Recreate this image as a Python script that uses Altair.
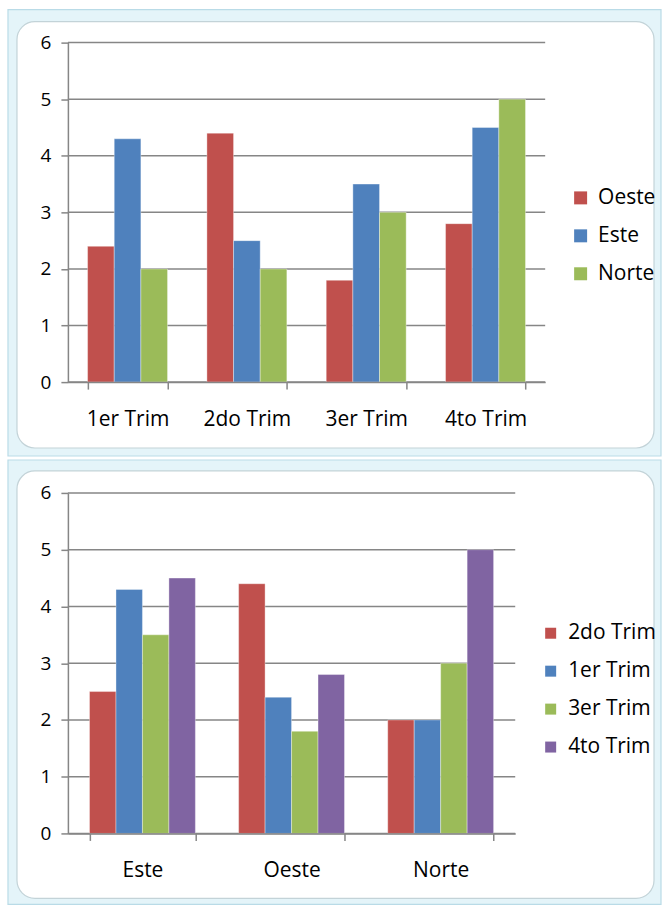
import altair as alt
import pandas as pd

# Ventas por trimestre y zona
trims = ["1er Trim", "2do Trim", "3er Trim", "4to Trim"]
zonas_top = ["Oeste", "Este", "Norte"]
oeste = [2.4, 4.4, 1.8, 2.8]
este = [4.3, 2.5, 3.5, 4.5]
norte = [2, 2, 3, 5]

# Mismos datos, agrupados por zona
zonas = ["Este", "Oeste", "Norte"]
trims_bottom = ["2do Trim", "1er Trim", "3er Trim", "4to Trim"]
t2 = [2.5, 4.4, 2]
t1 = [4.3, 2.4, 2]
t3 = [3.5, 1.8, 3]
t4 = [4.5, 2.8, 5]

y_ticks = [0, 1, 2, 3, 4, 5, 6]

RED, BLUE, GREEN, PURPLE = "#C0504D", "#4F81BD", "#9BBB59", "#8064A2"
GRID = "#868686"
FONT = "Open Sans"

top_df = pd.DataFrame(
    [{"cat": t, "serie": s, "valor": v}
     for s, vals in zip(zonas_top, [oeste, este, norte])
     for t, v in zip(trims, vals)]
)
bottom_df = pd.DataFrame(
    [{"cat": z, "serie": s, "valor": v}
     for s, vals in zip(trims_bottom, [t2, t1, t3, t4])
     for z, v in zip(zonas, vals)]
)
grid_df = pd.DataFrame({"valor": y_ticks})
one = pd.DataFrame({"k": [0]})


def box(x, x2, y, y2, fill, stroke, radius):
    return alt.Chart(one).mark_rect(
        fill=fill, stroke=stroke, strokeWidth=1.2, cornerRadius=radius
    ).encode(x=alt.value(x), x2=alt.value(x2), y=alt.value(y), y2=alt.value(y2))


def panel(df, cats, series, colors, width, height, pad_inner,
          frame_y, legend_x, legend_y, symbol):
    y_enc = alt.Y(
        "valor:Q",
        scale=alt.Scale(domain=[0, 6], nice=False),
        axis=alt.Axis(
            title=None, values=y_ticks, format="d", grid=False,
            tickSize=7, tickColor=GRID, tickWidth=1.5,
            domainColor=GRID, domainWidth=1.5,
            labelFontSize=19, labelFont=FONT, labelColor="#000000",
            labelPadding=10, zindex=1,
        ),
    )
    outer = box(-60, 594, frame_y[0], frame_y[1], "#e4f4f9", "#b9dbe7", 0)
    inner = box(-51, 587, frame_y[2], frame_y[3], "#ffffff", "#c3d3d8", 18)
    grid = alt.Chart(grid_df).mark_rule(color=GRID, strokeWidth=1.5).encode(
        y=y_enc, x=alt.value(0), x2=alt.value(width)
    )
    bars = alt.Chart(df).mark_bar(stroke="#ffffff", strokeWidth=0.6, strokeOpacity=0.6).encode(
        x=alt.X(
            "cat:N", sort=cats,
            scale=alt.Scale(paddingInner=pad_inner, paddingOuter=pad_inner / 2),
            axis=alt.Axis(
                title=None, labelAngle=0, tickBand="extent",
                tickSize=7, tickColor=GRID, tickWidth=1.5,
                domainColor=GRID, domainWidth=1.5,
                labelFontSize=21, labelFont=FONT, labelColor="#000000",
                labelPadding=19, zindex=1,
            ),
        ),
        xOffset=alt.XOffset(
            "serie:N", sort=series,
            scale=alt.Scale(domain=series, paddingInner=0, paddingOuter=0),
        ),
        y=y_enc,
        color=alt.Color(
            "serie:N", sort=series,
            scale=alt.Scale(domain=series, range=colors),
            legend=alt.Legend(
                title=None, orient="none", legendX=legend_x, legendY=legend_y,
                symbolType="square", symbolSize=symbol, symbolStrokeWidth=0,
                symbolOpacity=1, labelFontSize=21, labelFont=FONT,
                labelColor="#000000", labelOffset=7, rowPadding=16,
            ),
        ),
    )
    return alt.layer(outer, inner, grid, bars).properties(width=width, height=height)


top = panel(top_df, trims, zonas_top, [RED, BLUE, GREEN], 478, 340, 0.33,
            (-33, 414, -21, 406), 503, 145, 169)
bottom = panel(bottom_df, zonas, trims_bottom, [RED, BLUE, GREEN, PURPLE], 448, 341, 0.29,
               (-33, 412, -22, 406), 473, 130, 121)

chart = (
    alt.vconcat(top, bottom, spacing=111, bounds="flush")
    .resolve_scale(color="independent", y="independent", x="independent",
                   xOffset="independent")
    .properties(padding={"left": 7, "top": 8, "right": 0, "bottom": 0}, background="#ffffff")
    .configure_view(stroke=None)
)

chart.save("out.html", embed_options={"renderer": "svg", "actions": False})
